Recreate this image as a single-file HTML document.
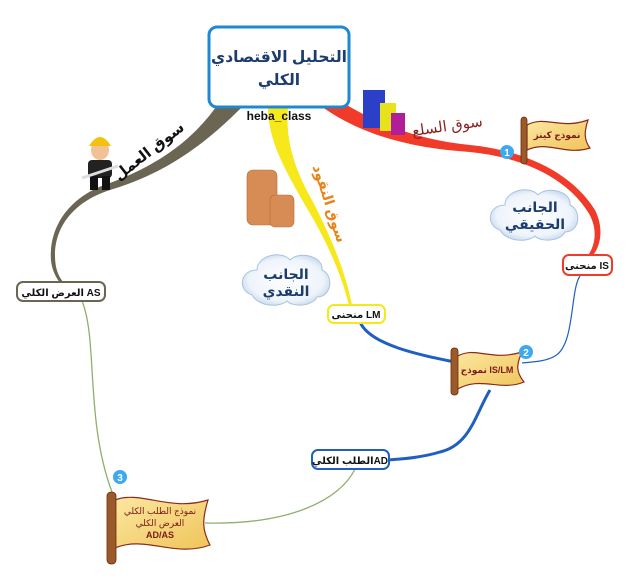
<!DOCTYPE html>
<html><head><meta charset="utf-8"><style>
html,body{margin:0;padding:0;background:#fff;}
svg{display:block;}
text{font-family:"Liberation Sans","DejaVu Sans",sans-serif;}
</style></head><body>
<svg width="644" height="579" viewBox="0 0 644 579" xmlns="http://www.w3.org/2000/svg">
<defs>
<radialGradient id="cl" cx="50%" cy="50%" r="60%"><stop offset="0" stop-color="#fff"/><stop offset="0.7" stop-color="#eef4fb"/><stop offset="1" stop-color="#b9cfe8"/></radialGradient>
<linearGradient id="fl" x1="0" y1="0" x2="1" y2="1"><stop offset="0" stop-color="#fbe7a0"/><stop offset="1" stop-color="#f0c45a"/></linearGradient>
</defs>

<!-- gray branch -->
<path d="M218,104 L245,104 C200,150 160,175 110,190 C70,203 55,230 55,255 C55,268 58,276 64,283 L60,283 C52,272 50,262 51,250 C53,222 72,195 110,183 C150,168 190,145 218,104 Z" fill="#6b6553"/>
<!-- yellow branch -->
<path d="M268,108 L288,108 C285,140 295,170 312,200 C330,235 345,270 352,305 L349,305 C340,270 325,238 305,205 C285,170 268,140 268,108 Z" fill="#f6e81a"/>
<!-- red branch -->
<path d="M318,104 L345,104 C380,125 420,140 470,145 C520,150 570,170 595,210 C605,230 600,250 590,258 L587,257 C596,245 598,228 588,212 C565,176 520,157 470,152 C410,148 360,135 318,104 Z" fill="#f03a2a"/>

<!-- connectors -->
<path d="M360,322 C370,345 420,355 455,362" fill="none" stroke="#1f5fbf" stroke-width="3"/>
<path d="M580,276 C570,290 575,345 555,356 C545,362 530,362 522,363" fill="none" stroke="#1f5fbf" stroke-width="1.2"/>
<path d="M490,390 C475,415 470,445 440,452 C420,458 400,459 388,460" fill="none" stroke="#1f5fbf" stroke-width="3"/>
<path d="M355,469 C340,500 290,525 205,523" fill="none" stroke="#8fb06e" stroke-width="1.3"/>
<path d="M82,301 C98,340 85,420 112,492" fill="none" stroke="#8fb06e" stroke-width="1.3"/>

<!-- central node -->
<rect x="209" y="27" width="140" height="80" rx="8" fill="#fff" stroke="#1e88d2" stroke-width="3"/>
<text x="279" y="62" text-anchor="middle" font-size="15.5" font-weight="bold" fill="#1c3b6e">التحليل الاقتصادي</text>
<text x="279" y="85" text-anchor="middle" font-size="15.5" font-weight="bold" fill="#1c3b6e">الكلي</text>
<text x="279" y="120" text-anchor="middle" font-size="12" font-weight="bold" fill="#111">heba_class</text>

<!-- branch labels -->
<text x="152" y="155" text-anchor="middle" font-size="15" font-weight="bold" fill="#111" transform="rotate(-38 152 155)">سوق العمل</text>
<text x="325" y="205" text-anchor="middle" font-size="14" font-weight="bold" fill="#e8831a" transform="rotate(72 325 205)">سوق النقود</text>
<text x="448" y="131" text-anchor="middle" font-size="15" fill="#8b1f1f" transform="rotate(-8 448 131)">سوق السلع</text>

<!-- worker -->
<g>
<ellipse cx="100" cy="150" rx="9" ry="10" fill="#f2c196"/>
<path d="M89,146 Q100,128 111,146 Z" fill="#f3c20e"/>
<rect x="88" y="160" width="24" height="18" rx="4" fill="#222"/>
<rect x="90" y="176" width="8" height="14" fill="#111"/><rect x="102" y="176" width="8" height="14" fill="#111"/>
<line x1="82" y1="178" x2="118" y2="166" stroke="#ddd" stroke-width="3"/>
</g>
<!-- bags -->
<g>
<rect x="363" y="90" width="22" height="38" fill="#2b3fc8"/>
<rect x="380" y="103" width="16" height="28" fill="#e8e21a"/>
<rect x="391" y="113" width="14" height="22" fill="#b01e9a"/>
</g>
<!-- coins -->
<g fill="#d88c55" stroke="#b86a35" stroke-width="0.6">
<rect x="247" y="170" width="30" height="55" rx="6"/>
<rect x="270" y="195" width="24" height="32" rx="5"/>
</g>

<!-- clouds -->
<g>
<path d="M500,230 C485,225 488,205 505,205 C505,190 530,185 538,195 C548,185 572,192 570,205 C582,210 580,232 565,232 C560,242 540,242 535,236 C525,244 505,240 500,230 Z" fill="url(#cl)" stroke="#aac3e0"/>
<text x="535" y="212" text-anchor="middle" font-size="14" font-weight="bold" fill="#1c3b6e">الجانب</text>
<text x="535" y="229" text-anchor="middle" font-size="14" font-weight="bold" fill="#1c3b6e">الحقيقي</text>
<path d="M252,295 C237,290 240,270 257,270 C257,255 282,250 290,260 C300,250 324,257 322,270 C334,275 332,297 317,297 C312,307 292,307 287,301 C277,309 257,305 252,295 Z" fill="url(#cl)" stroke="#aac3e0"/>
<text x="286" y="279" text-anchor="middle" font-size="14" font-weight="bold" fill="#1c3b6e">الجانب</text>
<text x="286" y="296" text-anchor="middle" font-size="14" font-weight="bold" fill="#1c3b6e">النقدي</text>
</g>

<!-- nodes -->
<rect x="17" y="282" width="88" height="19" rx="6" fill="#fff" stroke="#6b6553" stroke-width="2"/>
<text x="61" y="296" text-anchor="middle" font-size="10" font-weight="bold" fill="#111">العرض الكلي AS</text>
<rect x="328" y="305" width="57" height="18" rx="6" fill="#fff" stroke="#f6e81a" stroke-width="2"/>
<text x="356" y="318" text-anchor="middle" font-size="10" font-weight="bold" fill="#111">منحنى LM</text>
<rect x="563" y="255" width="49" height="20" rx="6" fill="#fff" stroke="#f03a2a" stroke-width="2"/>
<text x="587" y="269" text-anchor="middle" font-size="10" font-weight="bold" fill="#111">منحنى IS</text>
<rect x="312" y="450" width="77" height="19" rx="6" fill="#fff" stroke="#1f5fbf" stroke-width="2"/>
<text x="350" y="464" text-anchor="middle" font-size="10" font-weight="bold" fill="#111">الطلب الكليAD</text>

<!-- flags -->
<g>
<path d="M527,125 C545,115 560,130 588,120 C584,132 584,140 590,148 C565,156 548,140 527,150 Z" fill="url(#fl)" stroke="#8b2a1a" stroke-width="1.2"/>
<rect x="521" y="117" width="6" height="47" rx="3" fill="#9a5a2a" stroke="#6b2a10" stroke-width="0.8"/>
<text x="557" y="138" text-anchor="middle" font-size="9" font-weight="bold" fill="#7a1a1a">نموذج كينز</text>

<path d="M456,357 C475,345 490,362 522,352 C516,365 516,372 524,382 C500,392 480,375 456,390 Z" fill="url(#fl)" stroke="#8b2a1a" stroke-width="1.2"/>
<rect x="451" y="348" width="7" height="47" rx="3" fill="#9a5a2a" stroke="#6b2a10" stroke-width="0.8"/>
<text x="487" y="373" text-anchor="middle" font-size="9" font-weight="bold" fill="#7a1a1a">نموذج IS/LM</text>

<path d="M115,500 C140,490 170,512 208,500 C202,520 202,530 210,545 C175,558 145,535 115,548 Z" fill="url(#fl)" stroke="#8b2a1a" stroke-width="1.2"/>
<rect x="107" y="492" width="9" height="72" rx="4" fill="#9a5a2a" stroke="#6b2a10" stroke-width="0.8"/>
<text x="160" y="514" text-anchor="middle" font-size="9" fill="#7a1a1a">نموذج الطلب الكلي</text>
<text x="160" y="526" text-anchor="middle" font-size="9" fill="#7a1a1a">العرض الكلي</text>
<text x="160" y="538" text-anchor="middle" font-size="9" font-weight="bold" fill="#7a1a1a">AD/AS</text>
</g>

<!-- numbers -->
<g font-size="10" font-weight="bold" fill="#fff" text-anchor="middle">
<circle cx="507" cy="152" r="7" fill="#3fa9f0"/><text x="507" y="156">1</text>
<circle cx="526" cy="352" r="7" fill="#3fa9f0"/><text x="526" y="356">2</text>
<circle cx="120" cy="477" r="7" fill="#3fa9f0"/><text x="120" y="481">3</text>
</g>
</svg>
</body></html>
